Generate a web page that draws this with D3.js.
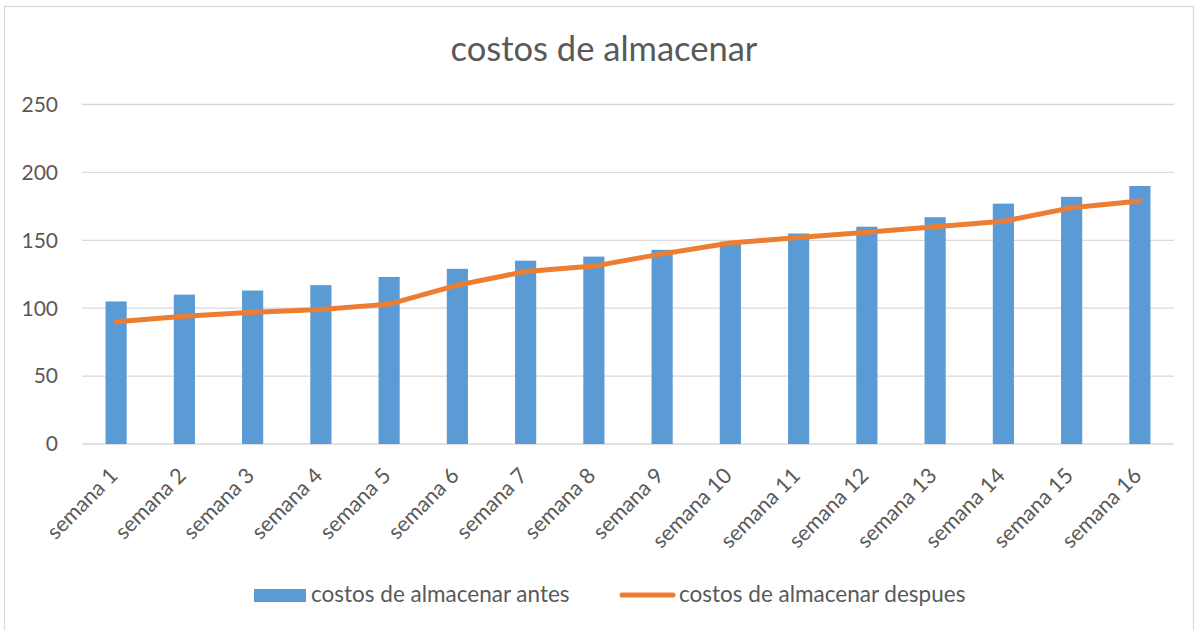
<!DOCTYPE html>
<html>
<head>
<meta charset="utf-8">
<script src="https://cdn.jsdelivr.net/npm/d3@7"></script>
<style>
  html, body { margin: 0; padding: 0; background: #fff; }
  svg text { font-family: Lato, "Open Sans", sans-serif; fill: #595959; }
</style>
</head>
<body>
<div id="chart"></div>
<script>
const categories = ['semana 1', 'semana 2', 'semana 3', 'semana 4', 'semana 5', 'semana 6',
  'semana 7', 'semana 8', 'semana 9', 'semana 10', 'semana 11', 'semana 12',
  'semana 13', 'semana 14', 'semana 15', 'semana 16'];
const antes = [105, 110, 113, 117, 123, 129, 135, 138, 143, 149, 155, 160, 167, 177, 182, 190];
const despues = [90, 94, 97, 99, 103, 117, 127, 131, 140, 148, 152, 156, 160, 164, 174, 179];
const yTicks = [0, 50, 100, 150, 200, 250];
const seriesNames = ['costos de almacenar antes', 'costos de almacenar despues'];
const title = 'costos de almacenar';

const width = 1198;
const height = 630;
const plot = { left: 82, right: 1174, top: 104.5, bottom: 444 };

const svg = d3.select('#chart')
  .append('svg')
  .attr('width', width)
  .attr('height', height);

// chart frame
svg.append('rect')
  .attr('x', 4.5)
  .attr('y', 6.5)
  .attr('width', 1189)
  .attr('height', 640)
  .attr('fill', 'none')
  .attr('stroke', '#d9d9d9')
  .attr('stroke-width', 1.3);

const x = d3.scaleBand()
  .domain(categories)
  .range([plot.left, plot.right])
  .paddingInner(0.69)
  .paddingOuter(0.345);

const y = d3.scaleLinear()
  .domain([0, 250])
  .range([plot.bottom, plot.top]);

svg.append('text')
  .attr('x', 604)
  .attr('y', 61)
  .attr('text-anchor', 'middle')
  .style('font-size', '34.5px')
  .text(title);

// gridlines + y labels
const grid = svg.append('g');
grid.selectAll('line')
  .data(yTicks)
  .enter().append('line')
  .attr('x1', plot.left)
  .attr('x2', plot.right)
  .attr('y1', d => y(d))
  .attr('y2', d => y(d))
  .attr('stroke', '#d9d9d9')
  .attr('stroke-width', 1.3);

grid.selectAll('text')
  .data(yTicks)
  .enter().append('text')
  .attr('x', 58)
  .attr('y', d => y(d))
  .attr('dy', '0.35em')
  .attr('text-anchor', 'end')
  .style('font-size', '21px')
  .text(d => d);

// bars
svg.append('g')
  .selectAll('rect')
  .data(antes)
  .enter().append('rect')
  .attr('x', (d, i) => x(categories[i]))
  .attr('y', d => y(d))
  .attr('width', x.bandwidth())
  .attr('height', d => y(0) - y(d))
  .attr('fill', '#5b9bd5');

// line
const line = d3.line()
  .x((d, i) => x(categories[i]) + x.bandwidth() / 2)
  .y(d => y(d));

svg.append('path')
  .datum(despues)
  .attr('d', line)
  .attr('fill', 'none')
  .attr('stroke', '#ed7d31')
  .attr('stroke-width', 5)
  .attr('stroke-linejoin', 'round')
  .attr('stroke-linecap', 'round');

// x labels, rotated
svg.append('g')
  .selectAll('text')
  .data(categories)
  .enter().append('text')
  .attr('transform', d => `translate(${x(d) + x.bandwidth() / 2 + 3}, 477) rotate(-45)`)
  .attr('text-anchor', 'end')
  .style('font-size', '21.5px')
  .text(d => d);

// legend
const legend = svg.append('g');
legend.append('rect')
  .attr('x', 254)
  .attr('y', 589)
  .attr('width', 52)
  .attr('height', 13)
  .attr('fill', '#5b9bd5');
legend.append('text')
  .attr('x', 311)
  .attr('y', 602)
  .style('font-size', '22.5px')
  .text(seriesNames[0]);
legend.append('line')
  .attr('x1', 622)
  .attr('x2', 673)
  .attr('y1', 595)
  .attr('y2', 595)
  .attr('stroke', '#ed7d31')
  .attr('stroke-width', 5)
  .attr('stroke-linecap', 'round');
legend.append('text')
  .attr('x', 679)
  .attr('y', 602)
  .style('font-size', '22.5px')
  .text(seriesNames[1]);
</script>
</body>
</html>
